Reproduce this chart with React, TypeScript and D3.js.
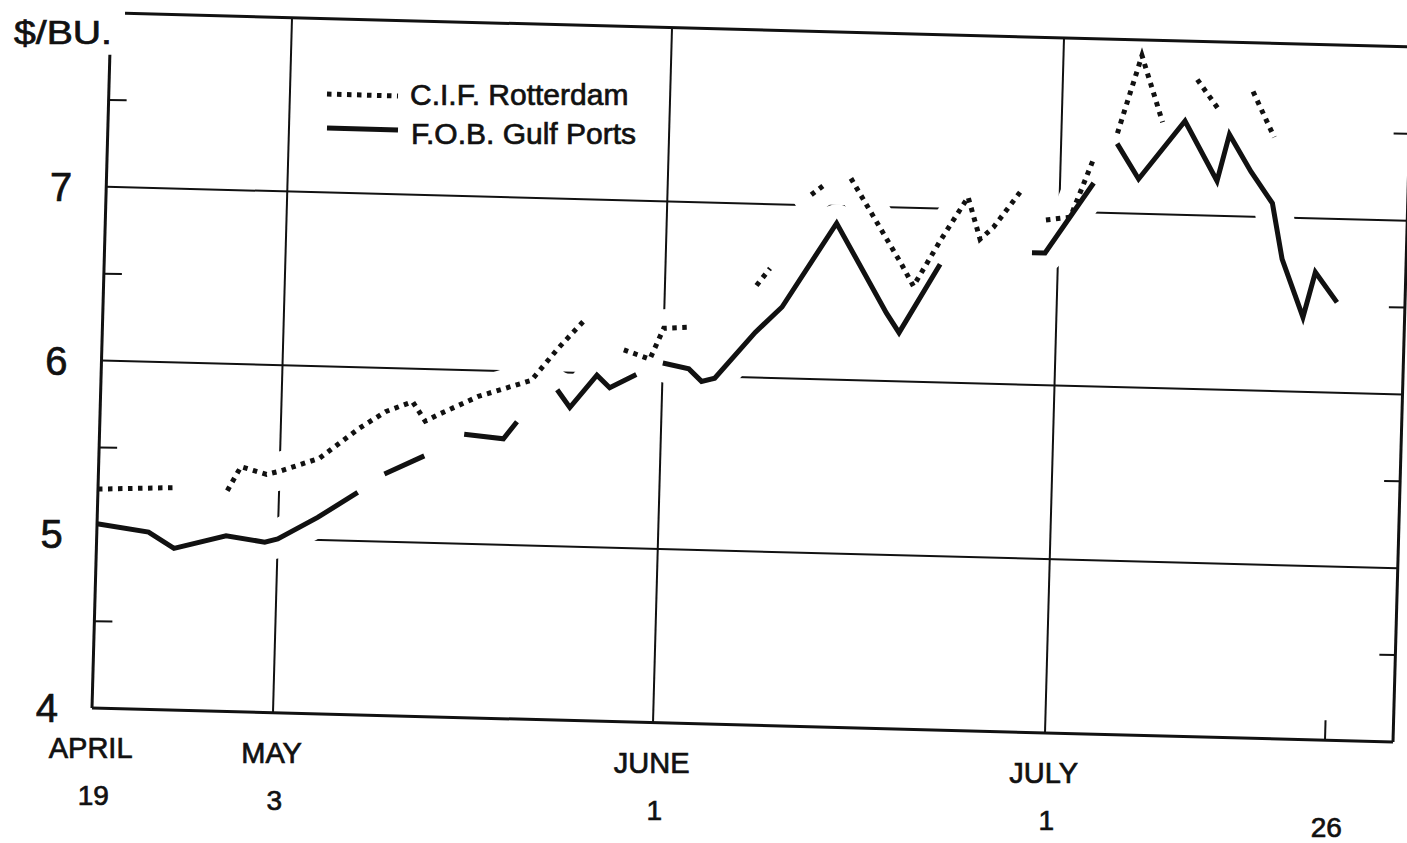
import React from 'react';
import * as d3 from 'd3';

const parseDay = d3.timeParse('%m-%d');

// axis labels
const tickDays = ['04-19', '05-03', '06-01', '07-01', '07-26'];
const monthLabels = ['APRIL', 'MAY', 'JUNE', 'JULY', ''];
const dayLabels = ['19', '3', '1', '1', '26'];
const gridDays = ['05-03', '06-01', '07-01'];
const priceTicks = [4, 5, 6, 7];
const gridPrices = [5, 6, 7];
const halfTicks = [4.5, 5.5, 6.5, 7.5];

// $/bu, null = no quote (line break)
const cifRotterdam: [string, number | null][] = [
  ['04-19', 5.26], ['04-25', 5.28], ['04-27', null], ['04-29', 5.27], ['04-30', 5.41],
  ['05-02', 5.37], ['05-03', 5.39], ['05-06', 5.47], ['05-09', 5.65], ['05-11', 5.75],
  ['05-13', 5.81], ['05-14', 5.7], ['05-15', 5.74], ['05-18', 5.85], ['05-20', 5.9],
  ['05-22', 5.95], ['05-24', 6.14], ['05-26', 6.31], ['05-27', null], ['05-29', 6.14],
  ['05-31', 6.09], ['06-01', 6.27], ['06-03', 6.28], ['06-05', null], ['06-08', 6.53],
  ['06-09', 6.63], ['06-10', null], ['06-12', 7.06], ['06-13', 7.12], ['06-14', null],
  ['06-15', 7.16], ['06-17', 6.92], ['06-19', 6.68], ['06-20', 6.55], ['06-22', 6.82],
  ['06-24', 7.07], ['06-25', 6.83], ['06-26', 6.9], ['06-28', 7.11], ['06-29', null],
  ['06-30', 6.95], ['07-02', 6.97], ['07-04', 7.32], ['07-05', null], ['07-06', 7.46],
  ['07-08', 7.91], ['07-10', 7.53], ['07-11', null], ['07-13', 7.78], ['07-15', 7.61],
  ['07-16', null], ['07-18', 7.72], ['07-20', 7.46],
];

const fobGulf: [string, number | null][] = [
  ['04-19', 5.06], ['04-23', 5.02], ['04-25', 4.93], ['04-29', 5.01], ['05-02', 4.98],
  ['05-03', 5.0], ['05-06', 5.13], ['05-09', 5.28], ['05-10', null], ['05-11', 5.39],
  ['05-14', 5.5], ['05-15', null], ['05-17', 5.63], ['05-20', 5.61], ['05-21', 5.71],
  ['05-22', null], ['05-24', 5.9], ['05-25', 5.8], ['05-27', 5.99], ['05-28', 5.92],
  ['05-30', 6.0], ['05-31', null], ['06-01', 6.07], ['06-03', 6.04], ['06-04', 5.97],
  ['06-05', 5.99], ['06-08', 6.26], ['06-10', 6.41], ['06-14', 6.9], ['06-18', 6.39],
  ['06-19', 6.28], ['06-22', 6.68], ['06-23', null], ['06-29', 6.76], ['06-30', 6.76],
  ['07-04', 7.17], ['07-05', null], ['07-06', 7.4], ['07-08', 7.2], ['07-12', 7.54],
  ['07-15', 7.2], ['07-16', 7.47], ['07-18', 7.26], ['07-20', 7.08], ['07-21', 6.76],
  ['07-23', 6.43], ['07-24', 6.69], ['07-26', 6.52],
];

const W = 1301;
const H = 695;
// the scanned page is slightly sheared
const sk = { x0: 111, y0: 13, kx: -0.02734, ky: 0.02613 };
const P = (u: number, v: number) => [sk.x0 + u + sk.kx * v, sk.y0 + sk.ky * u + v];

const font = '"Liberation Sans", Arial, sans-serif';

const App = () => {
  const x = d3.scaleTime()
    .domain([...tickDays, '08-01'].map(d => parseDay(d) as Date))
    .range([0, 181, 561, 953, 1233, 1301]);
  const y = d3.scaleLinear().domain([4, 8]).range([H, 0]);

  const line = d3.line<[string, number | null]>()
    .defined(d => d[1] != null)
    .x(d => x(parseDay(d[0]) as Date))
    .y(d => y(d[1] as number));

  const ink = '#111';
  const txt = { fontFamily: font, fill: ink, stroke: ink, strokeWidth: 0.7 };

  return (
    <svg width={1407} height={843} style={{ position: 'absolute', left: 0, top: 0, background: '#fff' }}>
      <g transform={`matrix(1,${sk.ky},${sk.kx},1,${sk.x0},${sk.y0})`}>
        {gridPrices.map(p => (
          <line key={'h' + p} x1={0} x2={W} y1={y(p)} y2={y(p)} stroke={ink} strokeWidth={2} />
        ))}
        {gridDays.map(d => {
          const u = x(parseDay(d) as Date);
          return <line key={'v' + d} x1={u} x2={u} y1={0} y2={H} stroke={ink} strokeWidth={2} />;
        })}
        {/* white gaps in the grid around the price lines */}
        <path d={line(cifRotterdam) || ''} fill="none" stroke="#fff" strokeWidth={38} strokeLinecap="round" strokeLinejoin="round" />
        <path d={line(fobGulf) || ''} fill="none" stroke="#fff" strokeWidth={38} strokeLinecap="round" strokeLinejoin="round" />

        {/* frame */}
        <line x1={14} x2={W} y1={0} y2={0} stroke={ink} strokeWidth={3} />
        <line x1={0} x2={0} y1={y(7.76)} y2={H} stroke={ink} strokeWidth={3} />
        <line x1={0} x2={W} y1={H} y2={H} stroke={ink} strokeWidth={3} />
        <line x1={W} x2={W} y1={0} y2={H} stroke={ink} strokeWidth={3} />
        {halfTicks.map(p => (
          <g key={'t' + p}>
            <line x1={0} x2={18} y1={y(p)} y2={y(p)} stroke={ink} strokeWidth={2} />
            <line x1={W - 16} x2={W} y1={y(p)} y2={y(p)} stroke={ink} strokeWidth={2} />
          </g>
        ))}
        <line x1={x(parseDay('07-26') as Date)} x2={x(parseDay('07-26') as Date)} y1={H} y2={H - 20} stroke={ink} strokeWidth={2} />

        <path d={line(cifRotterdam) || ''} fill="none" stroke={ink} strokeWidth={5} strokeDasharray="4.5 5.5" />
        <path d={line(fobGulf) || ''} fill="none" stroke={ink} strokeWidth={5} strokeLinejoin="miter" />
      </g>

      {/* axis text */}
      <text x={14} y={44} {...txt} fontSize={33} textLength={98} lengthAdjust="spacingAndGlyphs">$/BU.</text>
      {priceTicks.map(p => {
        const [sx, sy] = P(0, y(p));
        return (
          <text key={'yl' + p} x={sx - 34} y={sy + 14} textAnchor="end" {...txt} fontSize={40}>{p}</text>
        );
      })}
      {tickDays.map((d, i) => {
        const u = x(parseDay(d) as Date);
        const [mx, my] = P(u, H + 50);
        const [dx, dy] = P(u, H + 97);
        return (
          <g key={'xl' + d} textAnchor="middle">
            <text x={mx} y={my} {...txt} fontSize={29}>{monthLabels[i]}</text>
            <text x={dx + 4} y={dy} {...txt} fontSize={28}>{dayLabels[i]}</text>
          </g>
        );
      })}

      {/* legend */}
      <line x1={327} x2={398} y1={94} y2={96} stroke={ink} strokeWidth={5} strokeDasharray="4.5 5.5" />
      <text x={410} y={105} {...txt} fontSize={30}>C.I.F. Rotterdam</text>
      <line x1={327} x2={398} y1={128} y2={130} stroke={ink} strokeWidth={5} />
      <text x={411} y={144} {...txt} fontSize={30}>F.O.B. Gulf Ports</text>
    </svg>
  );
};

export default App;
